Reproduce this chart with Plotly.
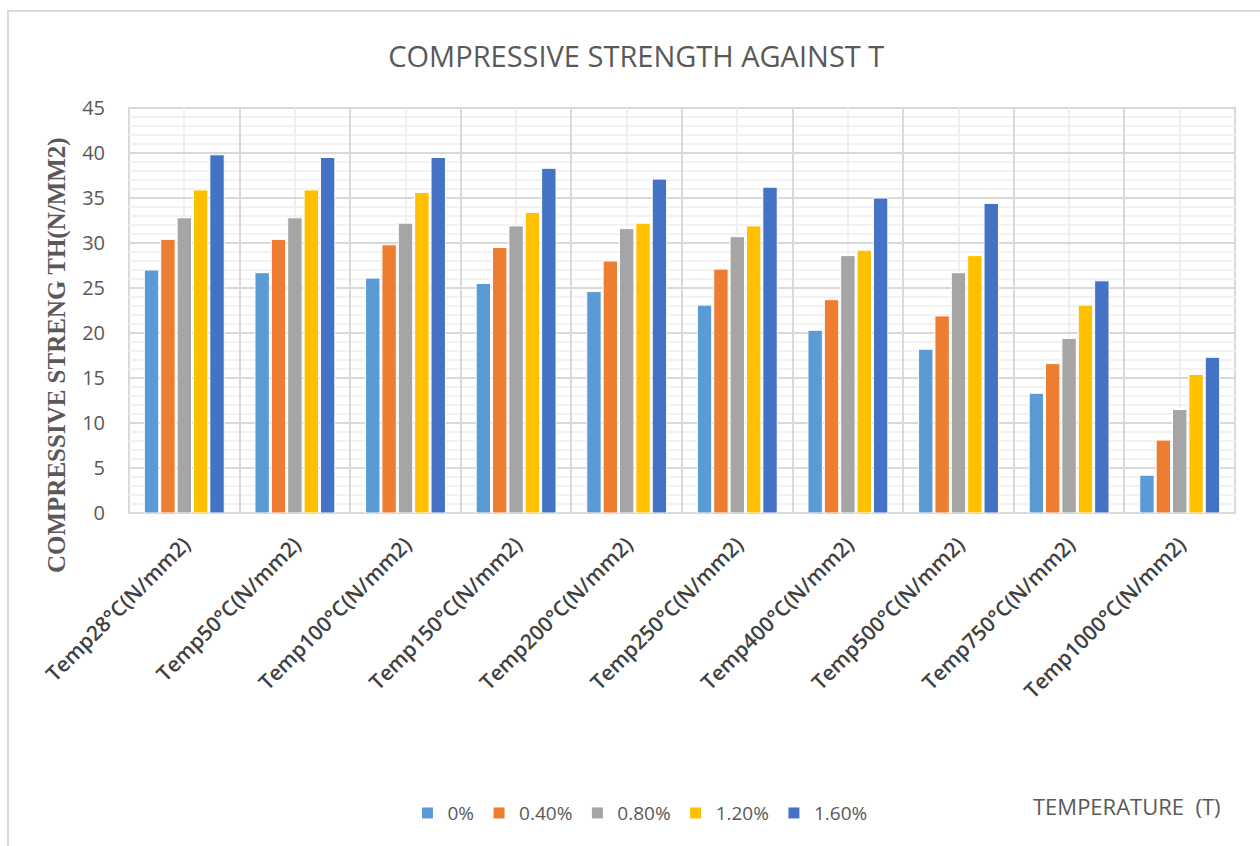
import plotly.graph_objects as go

categories = ["Temp28°C(N/mm2)", "Temp50°C(N/mm2)", "Temp100°C(N/mm2)", "Temp150°C(N/mm2)",
              "Temp200°C(N/mm2)", "Temp250°C(N/mm2)", "Temp400°C(N/mm2)", "Temp500°C(N/mm2)",
              "Temp750°C(N/mm2)", "Temp1000°C(N/mm2)"]
series_names = ["0%", "0.40%", "0.80%", "1.20%", "1.60%"]
s0 = [27.0, 26.7, 26.1, 25.5, 24.6, 23.1, 20.3, 18.2, 13.3, 4.2]
s040 = [30.4, 30.4, 29.8, 29.5, 28.0, 27.1, 23.7, 21.9, 16.6, 8.1]
s080 = [32.8, 32.8, 32.2, 31.9, 31.6, 30.7, 28.6, 26.7, 19.4, 11.5]
s120 = [35.9, 35.9, 35.6, 33.4, 32.2, 31.9, 29.2, 28.6, 23.1, 15.4]
s160 = [39.8, 39.5, 39.5, 38.3, 37.1, 36.2, 35.0, 34.4, 25.8, 17.3]
colors = ["#5B9BD5", "#ED7D31", "#A5A5A5", "#FFC000", "#4472C4"]
y_ticks = [0, 5, 10, 15, 20, 25, 30, 35, 40, 45]

xpos = list(range(len(categories)))
fig = go.Figure()
for name, vals, col in zip(series_names, [s0, s040, s080, s120, s160], colors):
    fig.add_trace(go.Bar(x=xpos, y=vals, name=name, marker=dict(color=col, line=dict(color="white", width=1))))

# invisible trace to bring in xaxis2 for boundary gridlines
fig.add_trace(go.Scatter(x=[-0.5, len(categories) - 0.5], y=[0, 0], xaxis="x2", mode="lines",
                         line=dict(width=0), showlegend=False, hoverinfo="skip"))

txtcol = "#595959"
FONT = "Open Sans"
fig.update_layout(
    width=1260, height=846,
    margin=dict(l=129, r=25, t=108, b=333),
    paper_bgcolor="white", plot_bgcolor="white",
    bargap=0.26, bargroupgap=0.12,
    title=dict(text="COMPRESSIVE STRENGTH AGAINST T", x=0.505, xanchor="center", y=1 - 57 / 846, yanchor="middle",
               font=dict(family=FONT, size=29, color=txtcol)),
    font=dict(family=FONT, color=txtcol),
    xaxis=dict(range=[-0.5, len(categories) - 0.5], tickvals=xpos, ticktext=categories, tickangle=-45,
               tickfont=dict(family=FONT, size=21, color="#404040", weight=600),
               showgrid=True, gridcolor="#f0f0f0", gridwidth=2, zeroline=False,
               showline=False, ticks="", ticklabelstandoff=14),
    xaxis2=dict(overlaying="x", matches="x", range=[-0.5, len(categories) - 0.5],
                tickvals=[i - 0.5 for i in range(len(categories) + 1)], showticklabels=False,
                showgrid=True, gridcolor="#d9d9d9", gridwidth=2, zeroline=False, ticks="", side="bottom"),
    yaxis=dict(range=[0, 45], tickvals=y_ticks, tickfont=dict(family=FONT, size=20, color=txtcol),
               showgrid=True, gridcolor="#d9d9d9", gridwidth=2, zeroline=False, ticks="",
               minor=dict(dtick=1, showgrid=True, gridcolor="#f2f2f2", gridwidth=2),
               showline=False, ticklabelstandoff=23),
    legend=dict(orientation="h", x=0.462, xanchor="center", y=-0.741, yanchor="middle",
                font=dict(family=FONT, size=19, color=txtcol), itemwidth=30, tracegroupgap=0),
    shapes=[
        dict(type="rect", xref="paper", yref="paper", x0=0, x1=1, y0=0, y1=1,
             line=dict(color="#d9d9d9", width=2), fillcolor="rgba(0,0,0,0)", layer="below"),
        dict(type="rect", xref="paper", yref="paper", x0=(8 - 129) / 1106, x1=(1300 - 129) / 1106,
             y0=(513 - 900) / 405, y1=(513 - 11) / 405, line=dict(color="#d9d9d9", width=2),
             fillcolor="rgba(0,0,0,0)"),
    ],
    annotations=[
        dict(text="<b>COMPRESSIVE STRENG TH(N/MM2)</b>", xref="paper", yref="paper",
             x=(57 - 129) / 1106, y=(513 - 355) / 405, textangle=-90, showarrow=False,
             xanchor="center", yanchor="middle",
             font=dict(family="Liberation Serif", size=25, color=txtcol)),
        dict(text="TEMPERATURE  (T)", xref="paper", yref="paper", x=(1127 - 129) / 1106,
             y=(513 - 806) / 405, showarrow=False, xanchor="center", yanchor="middle",
             font=dict(family=FONT, size=22, color=txtcol)),
    ],
)
fig.write_html("out.html")
